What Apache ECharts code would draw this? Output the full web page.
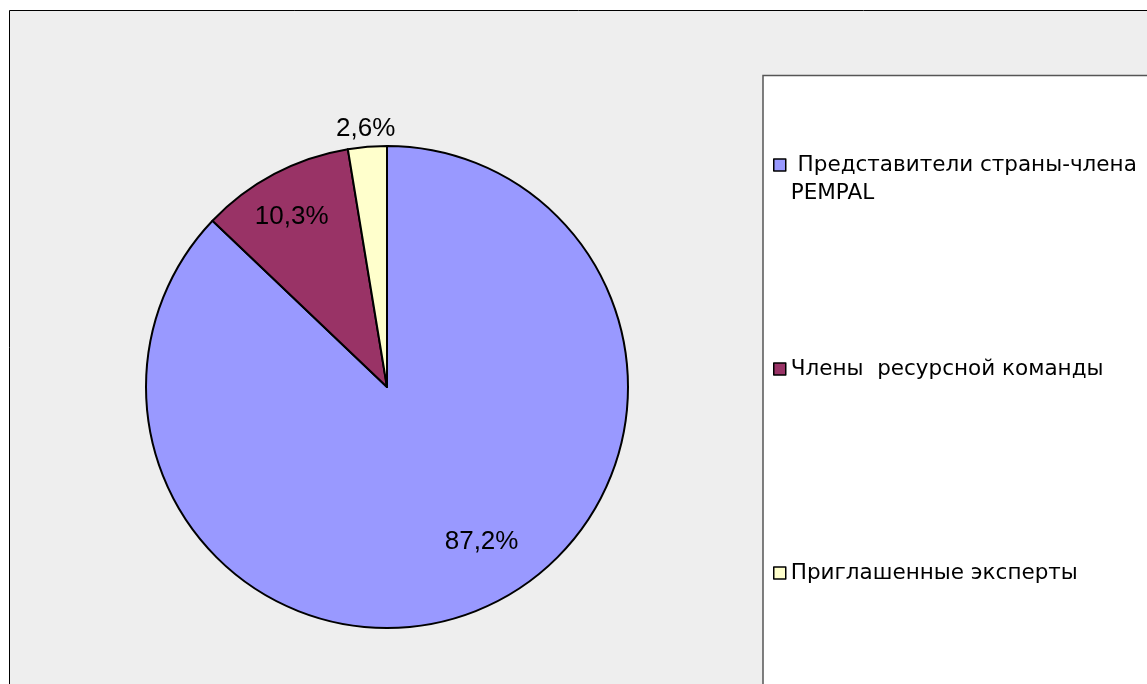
<!DOCTYPE html>
<html>
<head>
<meta charset="utf-8">
<script src="https://cdn.jsdelivr.net/npm/echarts@6/dist/echarts.min.js"></script>
<style>
html,body{margin:0;padding:0;background:#fff;}
#c{width:1147px;height:684px;}
</style>
</head>
<body>
<div id="c"></div>
<script>
var categories = ['Представители страны-члена PEMPAL', 'Члены  ресурсной команды', 'Приглашенные эксперты'];
var shares = [87.2, 10.3, 2.6];
var colors = ['#9999ff', '#993366', '#ffffcc'];

var chart = echarts.init(document.getElementById('c'), null, {renderer: 'canvas'});

function fmtPct(v) { return String(v).replace('.', ',') + '%'; }

var mainData = categories.map(function (n, i) {
  return { name: n, value: shares[i], itemStyle: { color: colors[i] } };
});
var labelOffsets = [[16, -29], [-2, 6], [-5, -59]];
var labelData = categories.map(function (n, i) {
  return { name: n, value: shares[i], label: { offset: labelOffsets[i] } };
});

var legendFont = 'DejaVu Sans';
function legendFor(i, top, fmt) {
  var l = {
    orient: 'vertical', left: 773, top: top, padding: 0,
    data: [categories[i]], itemWidth: 12, itemHeight: 12, icon: 'rect',
    selectedMode: false,
    itemStyle: { borderColor: '#000', borderWidth: 1.5 },
    textStyle: { fontFamily: legendFont, fontSize: 21.5, color: '#000', lineHeight: 28 }
  };
  if (fmt) l.formatter = fmt;
  return l;
}

chart.setOption({
  animation: false,
  backgroundColor: '#ffffff',
  graphic: [
    { type: 'rect', z: -10, shape: { x: 9.5, y: 10.5, width: 1200, height: 700 },
      style: { fill: '#eeeeee', stroke: '#000', lineWidth: 1 } },
    { type: 'rect', z: -9, shape: { x: 763, y: 75.5, width: 500, height: 700 },
      style: { fill: '#ffffff', stroke: '#555', lineWidth: 1.5 } }
  ],
  legend: [
    legendFor(0, 123, function (n) { return ' \n ' + n.replace(' PEMPAL', '\nPEMPAL'); }),
    legendFor(1, 355),
    legendFor(2, 559)
  ],
  series: [
    {
      type: 'pie', center: [387, 387], radius: 241, startAngle: 90, clockwise: true,
      silent: true,
      itemStyle: { borderColor: '#000', borderWidth: 2 },
      label: { show: false }, labelLine: { show: false },
      data: mainData
    },
    {
      type: 'pie', center: [387, 387], radius: [152, 241], startAngle: 90, clockwise: true,
      silent: true, legendHoverLink: false,
      itemStyle: { color: 'rgba(0,0,0,0)', borderWidth: 0 },
      label: { show: true, position: 'inside', fontFamily: 'Liberation Sans, Arial', fontSize: 26, color: '#000',
        formatter: function (p) { return fmtPct(p.value); } },
      labelLine: { show: false },
      data: labelData
    }
  ]
});
</script>
</body>
</html>
